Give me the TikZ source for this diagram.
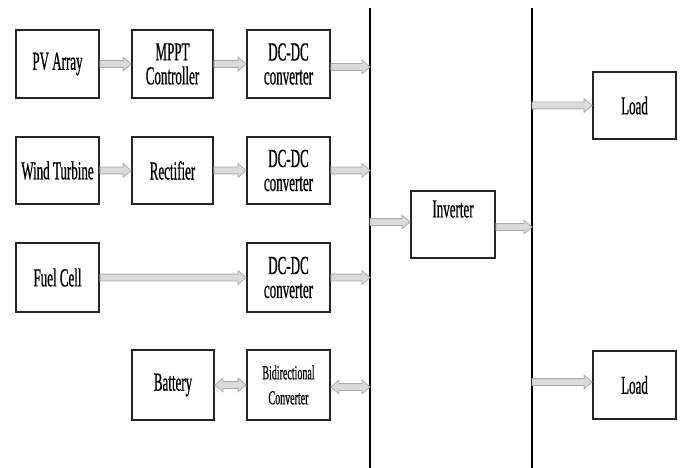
\documentclass[tikz,border=0pt]{standalone}
\usepackage{fontspec}
\newfontfamily\diagfont[FakeStretch=0.5,FakeBold=0.6]{Liberation Serif}
\usetikzlibrary{calc}
\tikzset{
  box/.style={draw=black!85, line width=1.8pt, inner sep=0pt, align=center,
    font=\diagfont\fontsize{26}{24}\selectfont},
  bus/.style={draw=black, line width=2.6pt},
  blk/.style={draw=gray!65, fill=gray!28, line width=0.8pt, line join=miter,
    to path={let \p1=(\tikztostart), \p2=(\tikztotarget) in
      (\x1,\y1+3.4pt) -- (\x2-8pt,\y1+3.4pt) -- (\x2-8pt,\y1+6.8pt) -- (\x2,\y1)
      -- (\x2-8pt,\y1-6.8pt) -- (\x2-8pt,\y1-3.4pt) -- (\x1,\y1-3.4pt) -- cycle}},
  bblk/.style={draw=gray!65, fill=gray!28, line width=0.8pt, line join=miter,
    to path={let \p1=(\tikztostart), \p2=(\tikztotarget) in
      (\x1,\y1) -- (\x1+8pt,\y1+6.8pt) -- (\x1+8pt,\y1+3.4pt) -- (\x2-8pt,\y1+3.4pt)
      -- (\x2-8pt,\y1+6.8pt) -- (\x2,\y1) -- (\x2-8pt,\y1-6.8pt) -- (\x2-8pt,\y1-3.4pt)
      -- (\x1+8pt,\y1-3.4pt) -- (\x1+8pt,\y1-6.8pt) -- cycle}},
}
\begin{document}
\begin{tikzpicture}[x=1pt,y=-1pt]
\useasboundingbox (0,0) rectangle (683,468);
% boxes
\node[box, minimum width=83pt, minimum height=68pt] (pv) at (57.5,64) {PV Array};
\node[box, minimum width=81pt, minimum height=68pt] (mppt) at (172.5,64) {MPPT\\Controller};
\node[box, minimum width=83pt, minimum height=68pt] (dc1) at (288.5,64) {DC-DC\\converter};
\node[box, minimum width=83pt, minimum height=67pt] (wt) at (57.5,170.5) {Wind Turbine};
\node[box, minimum width=81pt, minimum height=67pt] (rect) at (172.5,170.5) {Rectifier};
\node[box, minimum width=83pt, minimum height=67pt] (dc2) at (288.5,170.5) {DC-DC\\converter};
\node[box, minimum width=83pt, minimum height=69pt] (fc) at (57.5,277.5) {Fuel Cell};
\node[box, minimum width=83pt, minimum height=69pt] (dc3) at (288.5,277.5) {DC-DC\\converter};
\node[box, minimum width=82pt, minimum height=70pt] (bat) at (173,385) {Battery};
\node[box, minimum width=83pt, minimum height=70pt, font=\diagfont\fontsize{20}{25}\selectfont] (bd) at (288.5,385) {Bidirectional\\Converter};
\node[box, minimum width=84pt, minimum height=67pt] (inv) at (453,224.5) {Inverter\\\strut};
\node[box, minimum width=83pt, minimum height=67pt] (load1) at (634.5,105.5) {Load};
\node[box, minimum width=83pt, minimum height=68pt] (load2) at (634.5,385) {Load};
% buses
\coordinate (b1t) at (370,8);
\coordinate (b1b) at (370,468);
\coordinate (b2t) at (532,8);
\coordinate (b2b) at (532,468);
\draw[bus] (b1t) -- (b1b);
\draw[bus] (b2t) -- (b2b);
% arrows
\draw[blk] (pv.east) to (mppt.west);
\draw[blk] (mppt.east) to (dc1.west);
\draw[blk] (wt.east) to (rect.west);
\draw[blk] (rect.east) to (dc2.west);
\draw[blk] (fc.east) to (dc3.west);
\draw[bblk] (bat.east) to (bd.west);
\draw[blk] ([yshift=-3pt]dc1.east) to ([yshift=-3pt]dc1.east -| b1t);
\draw[blk] (dc2.east) to (dc2.east -| b1t);
\draw[blk] (dc3.east) to (dc3.east -| b1t);
\draw[bblk] ([yshift=-2pt]bd.east) to ([yshift=-2pt]bd.east -| b1t);
\draw[blk] ([yshift=2.5pt]inv.west -| b1t) to ([yshift=2.5pt]inv.west);
\draw[blk] ([yshift=-2.5pt]inv.east) to ([yshift=-2.5pt]inv.east -| b2t);
\draw[blk] (load1.west -| b2t) to (load1.west);
\draw[blk] ([yshift=3pt]load2.west -| b2t) to ([yshift=3pt]load2.west);
\end{tikzpicture}
\end{document}
